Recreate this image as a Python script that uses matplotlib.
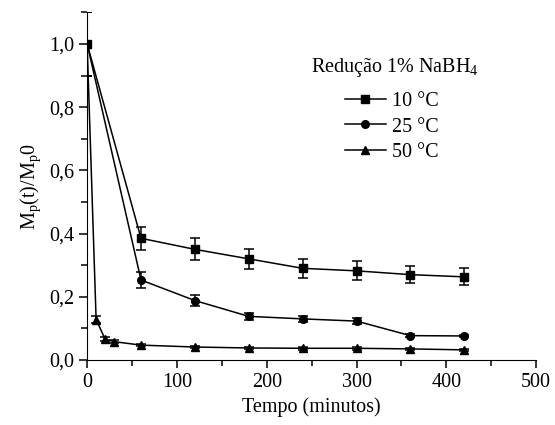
import matplotlib
matplotlib.use('Agg')
import matplotlib.pyplot as plt
from matplotlib.lines import Line2D
from matplotlib.ticker import MultipleLocator, FuncFormatter

plt.rcParams['font.family'] = 'Liberation Serif'
plt.rcParams['mathtext.fontset'] = 'custom'
plt.rcParams['mathtext.rm'] = 'Liberation Serif'

# tempo (minutos) e Mp(t)/Mp0
t_10 = [0, 60, 120, 180, 240, 300, 360, 420]
y_10 = [1.0, 0.385, 0.350, 0.320, 0.290, 0.282, 0.270, 0.263]
e_10 = [0.10, 0.037, 0.035, 0.032, 0.030, 0.030, 0.028, 0.027]

t_25 = [0, 60, 120, 180, 240, 300, 360, 420]
y_25 = [1.0, 0.253, 0.188, 0.138, 0.130, 0.123, 0.077, 0.076]
e_25 = [0.10, 0.025, 0.018, 0.010, 0.010, 0.010, 0.004, 0.004]

t_50 = [0, 10, 20, 30, 60, 120, 180, 240, 300, 360, 420]
y_50 = [1.0, 0.128, 0.066, 0.058, 0.047, 0.041, 0.038, 0.037, 0.037, 0.035, 0.032]
e_50 = [0.10, 0.010, 0.006, 0.005, 0.004, 0.004, 0.004, 0.004, 0.004, 0.004, 0.004]

series = [
	(t_10, y_10, e_10, 's', '10 °C'),
	(t_25, y_25, e_25, 'o', '25 °C'),
	(t_50, y_50, e_50, '^', '50 °C'),
]

fig = plt.figure(figsize=(5.55, 4.25), dpi=100)
ax = fig.add_axes([0.157, 0.153, 0.809, 0.818])

handles = []
for t, y, e, m, label in series:
	ax.errorbar(t, y, yerr=e, color='black', marker=m, markersize=5.5,
		linewidth=1.1, elinewidth=1.1, capsize=3.5, capthick=1.1)
	handles.append(Line2D([], [], color='black', marker=m, markersize=5.5,
		linewidth=1.1, label=label))

ax.set_xlim(0, 500)
ax.set_ylim(0, 1.1)
ax.xaxis.set_major_locator(MultipleLocator(100))
ax.xaxis.set_minor_locator(MultipleLocator(50))
ax.yaxis.set_major_locator(MultipleLocator(0.2))
ax.yaxis.set_minor_locator(MultipleLocator(0.1))
ax.yaxis.set_major_formatter(FuncFormatter(lambda v, p: f'{v:.1f}'.replace('.', ',')))
ax.spines['top'].set_visible(False)
ax.spines['right'].set_visible(False)
ax.tick_params(which='both', direction='out', width=1.1, labelsize=14.5)
ax.tick_params(which='major', length=6)
ax.tick_params(which='minor', length=4)

ax.set_xlabel('Tempo (minutos)', fontsize=14.5)
ax.set_ylabel(r'M$_\mathregular{p}$(t)/M$_\mathregular{p}$0', fontsize=14.5)

ax.text(0.686, 0.84, r'Redução 1% NaBH$_\mathregular{4}$', transform=ax.transAxes,
	ha='center', va='center', fontsize=14.5)
ax.legend(handles=handles, frameon=False, fontsize=14.5, loc='upper left',
	bbox_to_anchor=(0.575, 0.77), borderpad=0, borderaxespad=0,
	handlelength=2.0, handletextpad=0.3, labelspacing=0.3)

fig.savefig('out.png', dpi=100)
